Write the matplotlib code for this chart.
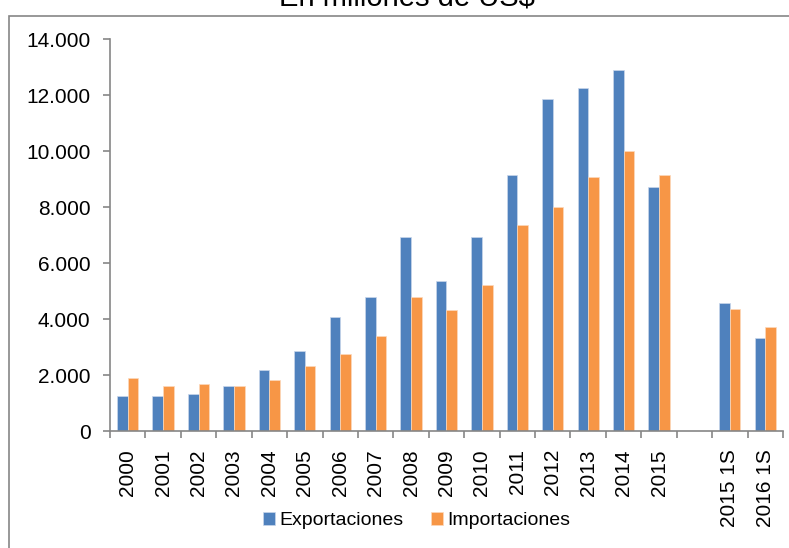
import numpy as np
import matplotlib
matplotlib.use('Agg')
import matplotlib.pyplot as plt
from matplotlib.patches import Rectangle

categorias = ['2000', '2001', '2002', '2003', '2004', '2005', '2006', '2007',
              '2008', '2009', '2010', '2011', '2012', '2013', '2014', '2015',
              '', '2015 1S', '2016 1S']
exportaciones = [1240, 1240, 1320, 1600, 2170, 2870, 4080, 4800,
                 6930, 5360, 6930, 9140, 11850, 12260, 12900, 8710,
                 np.nan, 4580, 3310]
importaciones = [1880, 1600, 1670, 1600, 1810, 2320, 2740, 3380,
                 4800, 4310, 5210, 7360, 8000, 9070, 10000, 9140,
                 np.nan, 4370, 3730]

AZUL = '#4F81BD'
NARANJA = '#F79646'
GRIS = '#868686'


def main():
    plt.rcParams['font.family'] = ['Liberation Sans', 'DejaVu Sans']
    fig = plt.figure(figsize=(7.89, 5.48), dpi=100)
    ax = fig.add_axes([0.1394, 0.2135, 0.8530, 0.7148])

    x = np.arange(len(categorias))
    w = 0.3
    ax.bar(x - w / 2, exportaciones, w, color=AZUL, edgecolor='#C9D7EB',
           linewidth=0.5, label='Exportaciones')
    ax.bar(x + w / 2, importaciones, w, color=NARANJA, edgecolor='#FCD9BD',
           linewidth=0.5, label='Importaciones')

    ax.set_xlim(-0.5, len(categorias) - 0.5)
    ax.set_ylim(0, 14000)
    ax.set_yticks(range(0, 14001, 2000))
    ax.set_yticklabels([f'{v:,}'.replace(',', '.') for v in range(0, 14001, 2000)])

    ax.set_xticks(x)
    ax.set_xticklabels(categorias, rotation=90, va='top')
    ax.set_xticks(np.arange(len(categorias) + 1) - 0.5, minor=True)
    ax.tick_params(axis='x', which='major', length=0, pad=13, labelsize=15)
    ax.tick_params(axis='x', which='minor', length=5, width=1.2, color=GRIS)
    ax.tick_params(axis='y', length=5, width=1.2, color=GRIS, pad=9, labelsize=15)

    for s in ['top', 'right']:
        ax.spines[s].set_visible(False)
    for s in ['left', 'bottom']:
        ax.spines[s].set_color(GRIS)
        ax.spines[s].set_linewidth(1.2)

    fig.legend(loc='center', bbox_to_anchor=(0.5285, 0.0493), ncol=2,
               frameon=False, fontsize=14, handlelength=0.6, handleheight=0.6,
               handletextpad=0.25, columnspacing=1.4)

    # titulo cortado arriba, como en la imagen
    fig.text(407 / 789, 1 - 6 / 548, 'En millones de US$', ha='center',
             va='baseline', fontsize=21)

    # marco exterior del grafico
    fig.patches.append(Rectangle((9 / 789, -0.2), 1.3, 1.2 - 16 / 548,
                                 transform=fig.transFigure, fill=False,
                                 edgecolor=GRIS, linewidth=1.2))

    fig.savefig('out.png', dpi=100)


if __name__ == '__main__':
    main()
